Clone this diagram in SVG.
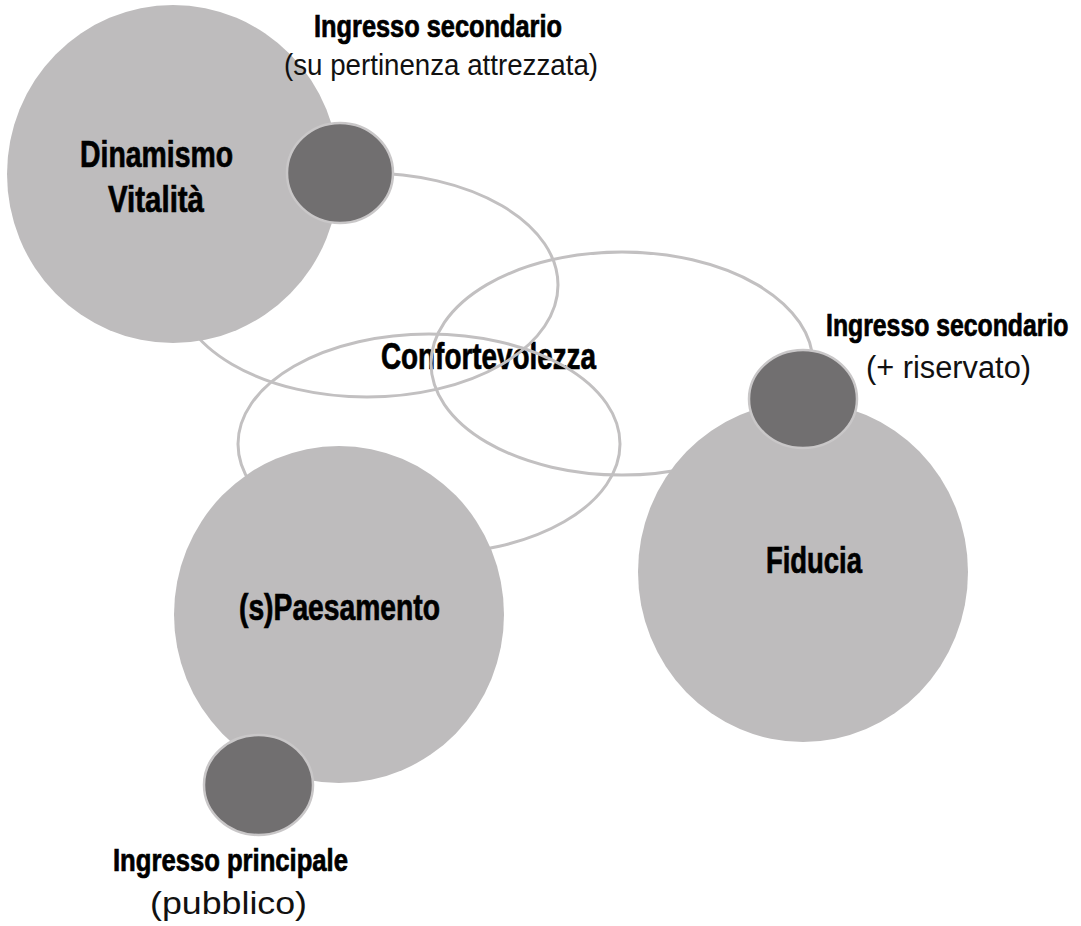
<svg xmlns="http://www.w3.org/2000/svg" width="1081" height="926" viewBox="0 0 1081 926">
<style>
.bg{fill:#bebcbd}
.dk{fill:#716f70;stroke:#c9c7c8;stroke-width:2.5}
.ring{fill:none;stroke:#c2c0c1;stroke-width:3}
.lb{font-family:"Liberation Sans",Arial,sans-serif;font-weight:bold;fill:#000;stroke:#000;stroke-width:0.7}
.lr{font-family:"Liberation Sans",Arial,sans-serif;font-weight:normal;fill:#111}
</style>
<rect width="1081" height="926" fill="#fff"/>
<g id="label-confortevolezza">
<text class="lb" x="381" y="369" font-size="36" textLength="215" lengthAdjust="spacingAndGlyphs">Confortevolezza</text>
</g>
<g id="connectors">
<ellipse class="ring" cx="367" cy="285" rx="191" ry="112"/>
<ellipse class="ring" cx="429" cy="444" rx="191" ry="110"/>
<ellipse class="ring" cx="622" cy="363.5" rx="191" ry="111.5"/>
</g>
<g id="node-dinamismo">
<ellipse class="bg" cx="173" cy="174" rx="166" ry="169"/>
<text class="lb" x="80" y="167" font-size="36" textLength="153" lengthAdjust="spacingAndGlyphs">Dinamismo</text>
<text class="lb" x="108" y="212" font-size="36" textLength="96" lengthAdjust="spacingAndGlyphs">Vitalità</text>
</g>
<g id="node-paesamento">
<ellipse class="bg" cx="339" cy="614.5" rx="165" ry="168.5"/>
<text class="lb" x="239" y="620" font-size="36" textLength="201" lengthAdjust="spacingAndGlyphs">(s)Paesamento</text>
</g>
<g id="node-fiducia">
<ellipse class="bg" cx="803" cy="572" rx="165" ry="170"/>
<text class="lb" x="766" y="573" font-size="36" textLength="96" lengthAdjust="spacingAndGlyphs">Fiducia</text>
</g>
<g id="entry-secondario-attrezzata">
<ellipse class="dk" cx="340" cy="173" rx="53" ry="50"/>
<text class="lb" x="314" y="37" font-size="31" textLength="248" lengthAdjust="spacingAndGlyphs">Ingresso secondario</text>
<text class="lr" x="284" y="75" font-size="29" textLength="314" lengthAdjust="spacingAndGlyphs">(su pertinenza attrezzata)</text>
</g>
<g id="entry-secondario-riservato">
<ellipse class="dk" cx="803" cy="399" rx="54" ry="49"/>
<text class="lb" transform="translate(826 336) scale(0.8 1)" x="0" y="0" font-size="31">Ingresso secondario</text>
<text class="lr" x="866" y="378" font-size="31" textLength="165" lengthAdjust="spacingAndGlyphs">(+ riservato)</text>
</g>
<g id="entry-principale">
<ellipse class="dk" cx="258.5" cy="785" rx="54.5" ry="50"/>
<text class="lb" x="113" y="871" font-size="31" textLength="235" lengthAdjust="spacingAndGlyphs">Ingresso principale</text>
<text class="lr" x="150" y="914" font-size="32" textLength="157" lengthAdjust="spacingAndGlyphs">(pubblico)</text>
</g>
</svg>
